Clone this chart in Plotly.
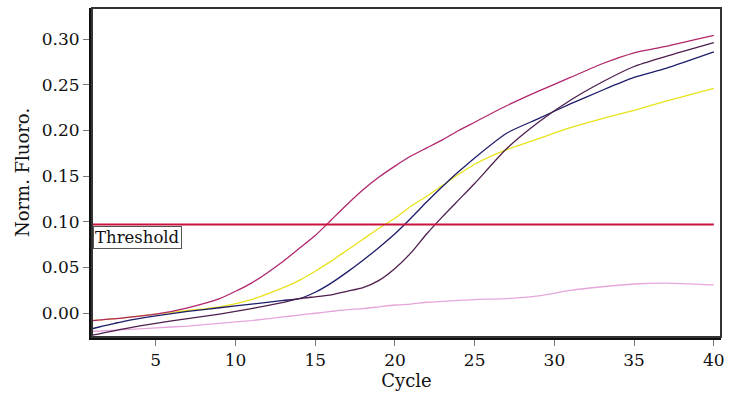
import plotly.graph_objects as go

cycles = [1, 3, 5, 7, 9, 11, 13, 14, 15, 16, 17, 18, 19, 20, 21, 22, 23, 24, 25, 27, 29, 31, 33, 35, 37, 40]

magenta = [-0.008, -0.005, -0.001, 0.006, 0.016, 0.033, 0.057, 0.071, 0.085, 0.102, 0.119, 0.135, 0.149, 0.161,
           0.172, 0.181, 0.190, 0.200, 0.209, 0.227, 0.243, 0.258, 0.273, 0.285, 0.292, 0.304]
yellow = [-0.008, -0.005, -0.001, 0.003, 0.007, 0.015, 0.028, 0.036, 0.046, 0.057, 0.069, 0.081, 0.093, 0.104,
          0.117, 0.128, 0.140, 0.152, 0.163, 0.179, 0.191, 0.203, 0.213, 0.222, 0.232, 0.246]
navy = [-0.017, -0.009, -0.003, 0.002, 0.006, 0.010, 0.014, 0.016, 0.023, 0.033, 0.045, 0.058, 0.072, 0.087,
        0.104, 0.122, 0.139, 0.155, 0.170, 0.197, 0.213, 0.229, 0.244, 0.258, 0.268, 0.286]
purple = [-0.024, -0.017, -0.011, -0.006, -0.001, 0.005, 0.012, 0.016, 0.018, 0.020, 0.024, 0.028, 0.036, 0.049,
          0.066, 0.087, 0.106, 0.124, 0.142, 0.180, 0.209, 0.233, 0.253, 0.270, 0.281, 0.296]
pink = [-0.020, -0.018, -0.016, -0.014, -0.011, -0.008, -0.004, -0.002, 0.000, 0.002, 0.004, 0.005, 0.007, 0.009,
        0.010, 0.012, 0.013, 0.014, 0.015, 0.016, 0.019, 0.025, 0.029, 0.032, 0.033, 0.031]

threshold_value = 0.097
threshold_cycles = [1, 40]

x_ticks = [5, 10, 15, 20, 25, 30, 35, 40]
y_ticks = [0.00, 0.05, 0.10, 0.15, 0.20, 0.25, 0.30]
y_tick_text = ["0.00", "0.05", "0.10", "0.15", "0.20", "0.25", "0.30"]

series = [
    ("pink", pink, "#E6A6DC"),
    ("yellow", yellow, "#E8E21A"),
    ("navy", navy, "#1C1C6A"),
    ("purple", purple, "#4E1E4C"),
    ("magenta", magenta, "#B0266C"),
]

fig = go.Figure()
for name, vals, col in series:
    fig.add_trace(go.Scatter(x=cycles, y=vals, mode="lines", name=name,
                             line=dict(color=col, width=1.3, shape="spline", smoothing=0.6),
                             showlegend=False, hoverinfo="skip"))

fig.add_trace(go.Scatter(x=threshold_cycles, y=[threshold_value] * len(threshold_cycles), mode="lines",
                         line=dict(color="#C8143C", width=2), showlegend=False, hoverinfo="skip"))

serif = "DejaVu Serif"

fig.add_annotation(x=1, y=threshold_value, xref="x", yref="y", xanchor="left", yanchor="top",
                   text="Threshold", showarrow=False, yshift=-1, xshift=1,
                   font=dict(family=serif, size=16.5, color="#111"),
                   bordercolor="#555", borderwidth=1, borderpad=1, bgcolor="rgba(0,0,0,0)")

# thinner frame for top / right sides
fig.add_shape(type="rect", xref="paper", yref="paper", x0=0, x1=1, y0=0, y1=1,
              line=dict(color="#333", width=2), fillcolor="rgba(0,0,0,0)", layer="above")

fig.update_layout(
    width=729, height=396,
    margin=dict(l=92, r=4, t=8, b=59),
    paper_bgcolor="white", plot_bgcolor="white",
    font=dict(family=serif, color="#111"),
)
fig.update_xaxes(range=[1, 40.45], tickvals=x_ticks, ticks="outside", ticklen=6, tickcolor="#777",
                 showgrid=False, zeroline=False, showline=True, linecolor="#111", linewidth=3,
                 ticklabeloverflow="allow",
                 tickfont=dict(family=serif, size=17),
                 title=dict(text="Cycle", font=dict(family=serif, size=18), standoff=4))
fig.update_yaxes(range=[-0.026, 0.334], tickvals=y_ticks, ticktext=y_tick_text, ticks="outside", ticklen=6,
                 tickcolor="#777", showgrid=False, zeroline=False, showline=True, linecolor="#111",
                 linewidth=3,
                 tickfont=dict(family=serif, size=17),
                 title=dict(text="Norm. Fluoro.", font=dict(family=serif, size=18), standoff=8))

fig.write_html("out.html")
